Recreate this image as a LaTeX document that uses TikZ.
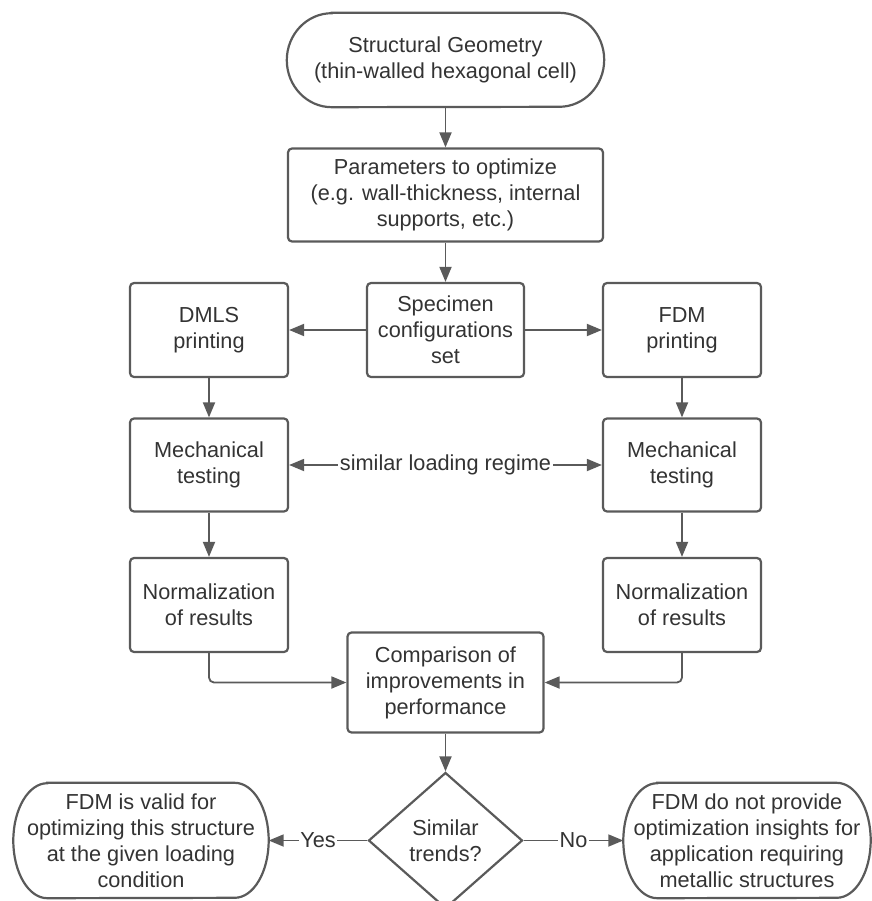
\documentclass[tikz,border=0pt]{standalone}
\usepackage{fontspec}
\setmainfont{Liberation Sans}
\usetikzlibrary{shapes.geometric, arrows.meta}
\definecolor{linegray}{HTML}{5A5A5A}
\definecolor{textgray}{HTML}{333333}
\tikzstyle{std} = [rectangle, rounded corners=4pt, minimum width=158pt, minimum height=94pt, text centered, align=center, draw=linegray, line width=2.2pt, text=textgray]
\tikzstyle{term} = [rectangle, inner sep=0pt, text centered, align=center, text=textgray]
\tikzstyle{decision} = [diamond, aspect=1.13, minimum width=154pt, minimum height=136pt, inner sep=0pt, align=center, draw=linegray, line width=2.2pt, text=textgray]
\tikzstyle{outline} = [draw=linegray, line width=2.2pt]
\tikzstyle{arrow} = [draw=linegray, line width=1.8pt, ->, >={Triangle[length=15pt, width=12pt]}]
\tikzstyle{lbl} = [midway, fill=white, inner xsep=1.5pt, inner ysep=0pt, text=textgray]

% terminal outline with elliptic ends: node name, x radius, half height
\newcommand{\drawterm}[3]{%
  \draw[outline] ([xshift=#2]#1.north west) -- ([xshift=-#2]#1.north east)
    arc[start angle=90, end angle=-90, x radius=#2, y radius=#3]
    -- ([xshift=#2]#1.south west)
    arc[start angle=270, end angle=90, x radius=#2, y radius=#3] -- cycle;}

\begin{document}
\begin{tikzpicture}[node distance=135pt, font=\fontsize{21.7}{26}\selectfont]
    \useasboundingbox (-445.5pt,60pt) rectangle (425.5pt,-841pt);

    \node (geom) [term, minimum width=317pt, minimum height=94pt] {Structural Geometry\\(thin-walled hexagonal cell)};
    \node (params) [std, minimum width=315pt, minimum height=93pt, below of=geom] {Parameters to optimize\\(e.g. wall-thickness, internal\\supports, etc.)};
    \node (spec) [std, minimum width=157pt, below of=params] {Specimen\\configurations\\set};
    \node (dmls) [std, left of=spec, xshift=-101.5pt] {DMLS\\printing};
    \node (fdm)  [std, right of=spec, xshift=101.5pt] {FDM\\printing};

    \node (mech1) [std, minimum height=93pt, below of=dmls] {Mechanical\\testing};
    \node (mech2) [std, minimum height=93pt, below of=fdm] {Mechanical\\testing};
    \node (norm1) [std, below of=mech1, yshift=-5pt] {Normalization\\of results};
    \node (norm2) [std, below of=mech2, yshift=-5pt] {Normalization\\of results};

    \node (comp) [std, minimum width=196pt, minimum height=100pt, below of=spec, yshift=-217.5pt] {Comparison of\\improvements in\\performance};
    \node (sim) [decision, below of=comp, yshift=-23pt] {Similar\\trends?};
    \node (valid) [term, minimum width=255pt, minimum height=115pt, left of=sim, xshift=-169.5pt] {FDM is valid for\\optimizing this structure\\at the given loading\\condition};
    \node (notvalid) [term, minimum width=247pt, minimum height=115pt, right of=sim, xshift=166.5pt] {FDM do not provide\\optimization insights for\\application requiring\\metallic structures};

    \drawterm{geom}{45pt}{47pt}
    \drawterm{valid}{34pt}{57.5pt}
    \drawterm{notvalid}{34pt}{57.5pt}

    \draw [arrow] (geom) -- (params);
    \draw [arrow] (params) -- (spec);
    \draw [arrow] (spec) -- (dmls);
    \draw [arrow] (spec) -- (fdm);
    \draw [arrow] (dmls) -- (mech1);
    \draw [arrow] (fdm) -- (mech2);
    \draw [arrow, <->] (mech1) -- (mech2) node[lbl] {similar loading regime};
    \draw [arrow] (mech1) -- (norm1);
    \draw [arrow] (mech2) -- (norm2);
    \draw [arrow, rounded corners=5pt] (norm1) |- (comp);
    \draw [arrow, rounded corners=5pt] (norm2) |- (comp);
    \draw [arrow] (comp) -- (sim);
    \draw [arrow] (sim) -- (valid) node[lbl] {Yes};
    \draw [arrow] (sim) -- (notvalid) node[lbl] {No};

\end{tikzpicture}
\end{document}
